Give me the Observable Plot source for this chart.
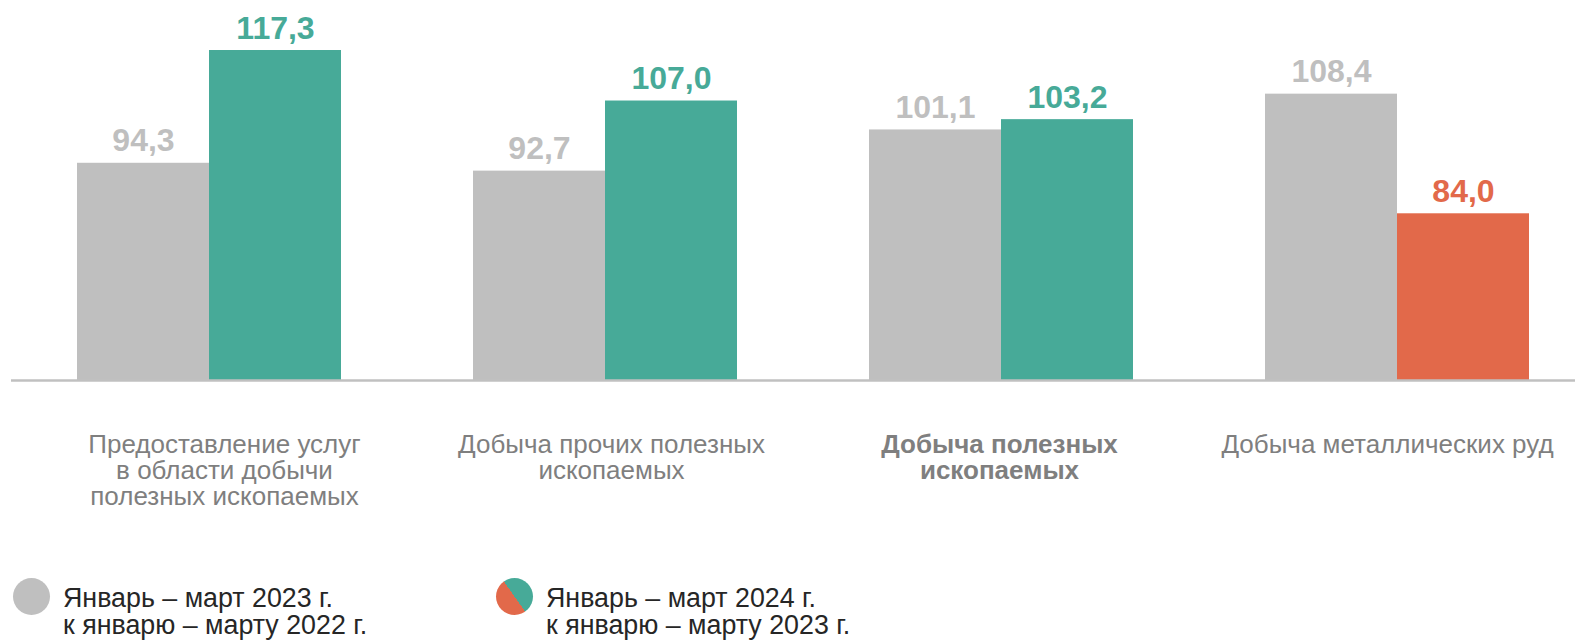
<!DOCTYPE html>
<html><head><meta charset="utf-8">
<script src="https://cdn.jsdelivr.net/npm/d3@7"></script>
<script src="https://cdn.jsdelivr.net/npm/@observablehq/plot@0.6"></script>
<style>
body{margin:0;background:#fff;font-family:"Liberation Sans",Arial,sans-serif;}
#wrap{position:relative;width:1575px;height:643px;overflow:hidden;background:#fff}
#chart{position:absolute;left:0;top:0}
.sw{position:absolute;width:37px;height:37px;border-radius:50%}
.lt{position:absolute;font-size:26.8px;line-height:27px;color:#262626;white-space:nowrap}
</style></head><body>
<div id="wrap">
  <div id="chart"></div>
  <div class="sw" style="left:13px;top:578px;background:#bfbfbf"></div>
  <div class="lt" id="lg1" style="left:63px;top:585px"></div>
  <div class="sw" style="left:496px;top:578px;background:linear-gradient(235deg,#47aa98 50%,#e2694a 50%)"></div>
  <div class="lt" id="lg2" style="left:546px;top:585px"></div>
</div>
<script>
const categories = [
  "Предоставление услуг\nв области добычи\nполезных ископаемых",
  "Добыча прочих полезных\nископаемых",
  "Добыча полезных\nископаемых",
  "Добыча металлических руд"
];
const seriesKeys = ["prev", "curr"];
const seriesLabels = [
  "Январь – март 2023 г.<br>к январю – марту 2022 г.",
  "Январь – март 2024 г.<br>к январю – марту 2023 г."
];
const prevValues = [94.3, 92.7, 101.1, 108.4];
const currValues = [117.3, 107.0, 103.2, 84.0];
const baseline = 50;
const boldCategory = "Добыча полезных\nископаемых";

document.getElementById("lg1").innerHTML = seriesLabels[0];
document.getElementById("lg2").innerHTML = seriesLabels[1];

const data = categories.flatMap((c, i) => [
  {cat: c, series: "prev", value: prevValues[i]},
  {cat: c, series: "curr", value: currValues[i]}
]);
const fmt = v => v.toFixed(1).replace(".", ",");
const tone = d => d.series === "prev" ? "prev" : (d.value >= 100 ? "up" : "down");

const labelShift = [15, 6, -2, -10];
const labelMarks = categories.map((c, i) => Plot.text([c], {
  fx: d => d,
  text: d => d,
  frameAnchor: "bottom",
  lineAnchor: "top",
  dy: 54,
  dx: labelShift[i],
  fontSize: 26,
  lineHeight: 1,
  fill: "#7f7f7f",
  fontWeight: c === boldCategory ? "bold" : "normal"
}));

const chart = Plot.plot({
  width: 1575,
  height: 530,
  marginTop: 0,
  marginBottom: 150,
  marginLeft: 76,
  marginRight: 46,
  fx: {domain: categories, paddingInner: 1/3, paddingOuter: 0, axis: null, label: null},
  x: {domain: seriesKeys, padding: 0, axis: null},
  y: {domain: [baseline, 127.5], axis: null},
  color: {domain: ["prev", "up", "down"], range: ["#bfbfbf", "#47aa98", "#e2694a"]},
  style: {fontFamily: "'Liberation Sans', Arial, sans-serif", background: "#fff", overflow: "visible"},
  marks: [
    Plot.barY(data, {fx: "cat", x: "series", y1: () => baseline, y2: "value", fill: tone}),
    Plot.ruleY([baseline], {stroke: "#c0c0c0", strokeWidth: 2.5, insetLeft: -66, insetRight: -66}),
    Plot.text(data, {
      fx: "cat", x: "series", y: "value",
      text: d => fmt(d.value),
      fill: tone,
      fontSize: 32,
      fontWeight: "bold",
      lineAnchor: "bottom",
      dy: -12
    }),
    ...labelMarks
  ]
});
document.getElementById("chart").appendChild(chart);
</script>
</body></html>
